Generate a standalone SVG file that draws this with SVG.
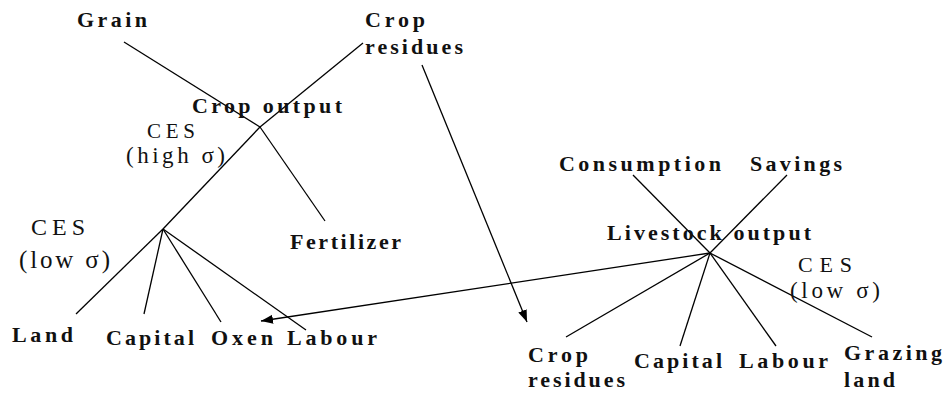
<svg xmlns="http://www.w3.org/2000/svg" width="948" height="396" viewBox="0 0 948 396">
<style>
.lbl{font-family:"Liberation Serif","Times New Roman",serif;font-weight:bold;font-size:22px;fill:#111}
.ces{font-family:"Liberation Serif","Times New Roman",serif;font-size:24px;fill:#111}
.sig{font-family:"Liberation Serif","Times New Roman",serif;font-size:25px;fill:#111}
.ln{stroke:#000;stroke-width:1.3;fill:none}
</style>
<defs>
<marker id="ah" markerUnits="userSpaceOnUse" markerWidth="13" markerHeight="10" refX="12" refY="4.5" orient="auto">
<path d="M0,0 L12,4.5 L0,9 z" fill="#000"/>
</marker>
</defs>
<g id="connectors">
<line class="ln" x1="124" y1="42" x2="260" y2="127"/>
<line class="ln" x1="363" y1="43" x2="260" y2="127"/>
<line class="ln" x1="260" y1="127" x2="325" y2="221"/>
<line class="ln" x1="260" y1="127" x2="163" y2="229"/>
<line class="ln" x1="163" y1="229" x2="76" y2="314"/>
<line class="ln" x1="163" y1="229" x2="144" y2="314"/>
<line class="ln" x1="163" y1="229" x2="221" y2="322"/>
<line class="ln" x1="163" y1="229" x2="306" y2="330"/>
<line class="ln" x1="633" y1="175" x2="710" y2="253"/>
<line class="ln" x1="787" y1="175" x2="710" y2="253"/>
<line class="ln" x1="710" y1="253" x2="566" y2="337"/>
<line class="ln" x1="710" y1="253" x2="680" y2="346"/>
<line class="ln" x1="710" y1="253" x2="776" y2="346"/>
<line class="ln" x1="710" y1="253" x2="872" y2="337"/>
<line class="ln" x1="422" y1="65" x2="527" y2="322" marker-end="url(#ah)"/>
<line class="ln" x1="710" y1="253" x2="261" y2="321" marker-end="url(#ah)"/>
</g>
<g id="grain"><text class="lbl" x="77" y="27" textLength="70" lengthAdjust="spacing">Grain</text></g>
<g id="crop-residues-top"><text class="lbl" x="365" y="27" textLength="60" lengthAdjust="spacing">Crop</text><text class="lbl" x="365" y="54" textLength="98" lengthAdjust="spacing">residues</text></g>
<g id="crop-output"><text class="lbl" x="192" y="113" textLength="150" lengthAdjust="spacing">Crop output</text>
<text class="ces" x="147" y="138" style="font-size:21px" textLength="48" lengthAdjust="spacing">CES</text><text class="sig" x="126" y="163" style="font-size:23px" textLength="99" lengthAdjust="spacing">(high σ)</text></g>
<g id="crop-inputs"><text class="ces" x="31" y="235" textLength="54" lengthAdjust="spacing">CES</text><text class="sig" x="19" y="268" textLength="91" lengthAdjust="spacing">(low σ)</text></g>
<g id="fertilizer"><text class="lbl" x="290" y="249" textLength="111" lengthAdjust="spacing">Fertilizer</text></g>
<g id="land"><text class="lbl" x="12" y="342" textLength="61" lengthAdjust="spacing">Land</text></g>
<g id="capital-crop"><text class="lbl" x="106" y="345" textLength="88" lengthAdjust="spacing">Capital</text></g>
<g id="oxen"><text class="lbl" x="211" y="345" textLength="62" lengthAdjust="spacing">Oxen</text></g>
<g id="labour-crop"><text class="lbl" x="287" y="345" textLength="90" lengthAdjust="spacing">Labour</text></g>
<g id="consumption"><text class="lbl" x="559" y="171" textLength="162" lengthAdjust="spacing">Consumption</text></g>
<g id="savings"><text class="lbl" x="750" y="171" textLength="92" lengthAdjust="spacing">Savings</text></g>
<g id="livestock-output"><text class="lbl" x="607" y="240" textLength="204" lengthAdjust="spacing">Livestock output</text>
<text class="ces" x="798" y="272" style="font-size:22px" textLength="54" lengthAdjust="spacing">CES</text><text class="sig" x="790" y="298" style="font-size:23px" textLength="90" lengthAdjust="spacing">(low σ)</text></g>
<g id="crop-residues-bottom"><text class="lbl" x="528" y="362" textLength="60" lengthAdjust="spacing">Crop</text><text class="lbl" x="528" y="387" textLength="97" lengthAdjust="spacing">residues</text></g>
<g id="capital-livestock"><text class="lbl" x="634" y="368" textLength="88" lengthAdjust="spacing">Capital</text></g>
<g id="labour-livestock"><text class="lbl" x="739" y="368" textLength="89" lengthAdjust="spacing">Labour</text></g>
<g id="grazing-land"><text class="lbl" x="844" y="360" textLength="98" lengthAdjust="spacing">Grazing</text><text class="lbl" x="844" y="387" textLength="51" lengthAdjust="spacing">land</text></g>
</svg>
